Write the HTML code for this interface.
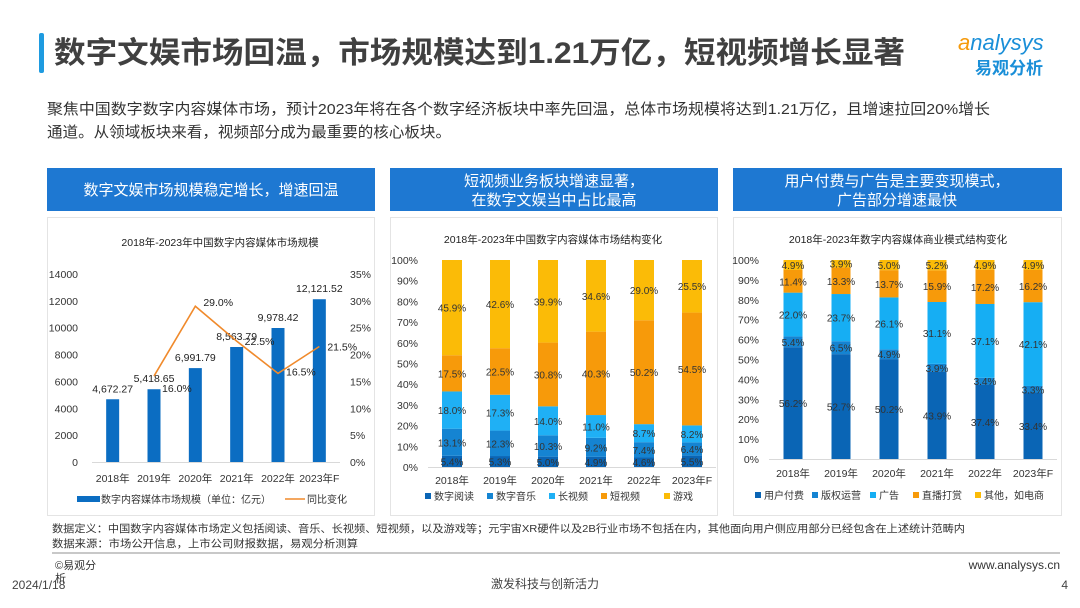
<!DOCTYPE html>
<html><head><meta charset="utf-8">
<style>
body{margin:0;width:1080px;height:608px;background:#fff;overflow:hidden;font-family:"Liberation Sans","Noto Sans CJK SC",sans-serif;}
svg{position:absolute;left:0;top:0}
text{font-family:"Liberation Sans","Noto Sans CJK SC",sans-serif;}
</style></head>
<body>
<svg id="s" width="1080" height="608" viewBox="0 0 1080 608">
  <rect x="39" y="33" width="5" height="40" rx="2" fill="#1e9be0"/>
  <text x="54" y="63" font-size="30" font-weight="bold" fill="#404040" textLength="851" lengthAdjust="spacingAndGlyphs">数字文娱市场回温，市场规模达到1.21万亿，短视频增长显著</text>
  <g>
    <text x="958" y="50" font-size="22" fill="#1a8fd8" font-style="italic"><tspan fill="#f59a0c">a</tspan>nalysys</text>
    <text x="975" y="74" font-size="17" font-weight="bold" fill="#1a8fd8">易观分析</text>
  </g>
  <text x="47" y="114" font-size="15" fill="#333" textLength="943" lengthAdjust="spacingAndGlyphs">聚焦中国数字数字内容媒体市场，预计2023年将在各个数字经济板块中率先回温，总体市场规模将达到1.21万亿，且增速拉回20%增长</text>
  <text x="47" y="137" font-size="15" fill="#333" textLength="404" lengthAdjust="spacingAndGlyphs">通道。从领域板块来看，视频部分成为最重要的核心板块。</text>

  <rect x="47" y="168" width="328" height="43" fill="#1e78d2"/>
  <text x="211" y="195" font-size="15" fill="#fff" text-anchor="middle">数字文娱市场规模稳定增长，增速回温</text>
  <rect x="390" y="168" width="328" height="43" fill="#1e78d2"/>
  <text x="554" y="186" font-size="15" fill="#fff" text-anchor="middle">短视频业务板块增速显著，</text>
  <text x="554" y="205" font-size="15" fill="#fff" text-anchor="middle">在数字文娱当中占比最高</text>
  <rect x="733" y="168" width="329" height="43" fill="#1e78d2"/>
  <text x="897" y="186" font-size="15" fill="#fff" text-anchor="middle">用户付费与广告是主要变现模式，</text>
  <text x="897" y="205" font-size="15" fill="#fff" text-anchor="middle">广告部分增速最快</text>

  <rect x="47.5" y="217.5" width="327" height="298" fill="#fff" stroke="#e4e4e4"/>
  <rect x="390.5" y="217.5" width="327" height="298" fill="#fff" stroke="#e4e4e4"/>
  <rect x="733.5" y="217.5" width="328" height="298" fill="#fff" stroke="#e4e4e4"/>

  <g id="c1"></g>
  <g id="c2"></g>
  <g id="c3"></g>

  <text x="52" y="532" font-size="10.5" fill="#333" textLength="913" lengthAdjust="spacingAndGlyphs">数据定义：中国数字内容媒体市场定义包括阅读、音乐、长视频、短视频，以及游戏等；元宇宙XR硬件以及2B行业市场不包括在内，其他面向用户侧应用部分已经包含在上述统计范畴内</text>
  <text x="52" y="547" font-size="10.5" fill="#333" textLength="306" lengthAdjust="spacingAndGlyphs">数据来源：市场公开信息，上市公司财报数据，易观分析测算</text>
  <rect x="52" y="552" width="1008" height="2" fill="#c8c8c8"/>
  <text x="55" y="569" font-size="11" fill="#333">©易观分</text>
  <text x="55" y="582" font-size="11" fill="#333">析</text>
  <text x="12" y="589" font-size="12" fill="#444">2024/1/18</text>
  <text x="545" y="588" font-size="12" fill="#444" text-anchor="middle">激发科技与创新活力</text>
  <text x="1060" y="569" font-size="12" fill="#333" text-anchor="end">www.analysys.cn</text>
  <text x="1068" y="589" font-size="12" fill="#444" text-anchor="end">4</text>
</svg>
<script>
const years = ["2018年","2019年","2020年","2021年","2022年","2023年F"];
const marketSize = [4672.27,5418.65,6991.79,8563.79,9978.42,12121.52];
const sizeLabels = ["4,672.27","5,418.65","6,991.79","8,563.79","9,978.42","12,121.52"];
const growth = [null,16.0,29.0,22.5,16.5,21.5];
const leftTicks = [0,2000,4000,6000,8000,10000,12000,14000];
const rightTicks = [0,5,10,15,20,25,30,35];

const segNames2 = ["数字阅读","数字音乐","长视频","短视频","游戏"];
const reading = [5.4,5.3,5.0,4.9,4.6,5.5];
const music = [13.1,12.3,10.3,9.2,7.4,6.4];
const longVideo = [18.0,17.3,14.0,11.0,8.7,8.2];
const shortVideo = [17.5,22.5,30.8,40.3,50.2,54.5];
const games = [45.9,42.6,39.9,34.6,29.0,25.5];

const segNames3 = ["用户付费","版权运营","广告","直播打赏","其他，如电商"];
const userPay = [56.2,52.7,50.2,43.9,37.4,33.4];
const copyright = [5.4,6.5,4.9,3.9,3.4,3.3];
const ads = [22.0,23.7,26.1,31.1,37.1,42.1];
const liveTips = [11.4,13.3,13.7,15.9,17.2,16.2];
const others = [4.9,3.9,5.0,5.2,4.9,4.9];
const pctTicks = [0,10,20,30,40,50,60,70,80,90,100];

const NS="http://www.w3.org/2000/svg";
function mk(p,tag,attrs,txt){const e=document.createElementNS(NS,tag);for(const k in attrs)e.setAttribute(k,attrs[k]);if(txt!==undefined)e.textContent=txt;p.appendChild(e);return e;}

// Chart 1
(function(){
  const g=document.getElementById('c1');
  const x0=92,x1=340,yTop=274,yBot=462;
  const n=years.length, step=(x1-x0)/n;
  const xc=i=>x0+step*(i+0.5);
  const yL=v=>yBot-(v/14000)*(yBot-yTop);
  const yR=v=>yBot-(v/35)*(yBot-yTop);
  let t=mk(g,'text',{x:220,y:246,'font-size':10.5,'text-anchor':'middle',fill:'#222'},'2018年-2023年中国数字内容媒体市场规模');
  
  leftTicks.forEach(v=>{const e=mk(g,'text',{x:78,y:yL(v)+4,'font-size':10.5,'text-anchor':'end',fill:'#333'},String(v));
    });
  rightTicks.forEach(v=>{const e=mk(g,'text',{x:350,y:yR(v)+4,'font-size':10.5,fill:'#333'},v+'%');
    });
  const ax=mk(g,'line',{x1:x0,x2:x1,y1:yBot+0.5,y2:yBot+0.5,stroke:'#d9d9d9'});
  
  marketSize.forEach((v,i)=>{
    const b=mk(g,'rect',{x:xc(i)-6.5,y:yL(v),width:13,height:yBot-yL(v),fill:'#0b6dc2'});
    
    const l=mk(g,'text',{x:xc(i),y:yL(v)-7,'font-size':10.5,'text-anchor':'middle',fill:'#222'},sizeLabels[i]);
    
    const xl=mk(g,'text',{x:xc(i),y:482,'font-size':10.5,'text-anchor':'middle',fill:'#333'},years[i]);
    
  });
  let d='';growth.forEach((v,i)=>{if(v==null)return;d+=(d?'L':'M')+xc(i)+','+yR(v);});
  const ln=mk(g,'path',{d:d,fill:'none',stroke:'#f08a2c','stroke-width':1.6});
  
  const offY=[0,16,0,4,2,4];
  growth.forEach((v,i)=>{if(v==null)return;
    const l=mk(g,'text',{x:xc(i)+8,y:yR(v)+offY[i],'font-size':10.5,fill:'#222'},v.toFixed(1)+'%');
    });
  const lb=mk(g,'rect',{x:77,y:496,width:23,height:6,fill:'#0b6dc2'});
  
  const lt=mk(g,'text',{x:101,y:503,'font-size':10,fill:'#333'},'数字内容媒体市场规模（单位：亿元）');
  
  const ll=mk(g,'line',{x1:285,x2:305,y1:499,y2:499,stroke:'#f08a2c','stroke-width':1.6});
  
  const lt2=mk(g,'text',{x:307,y:503,'font-size':10,fill:'#333'},'同比变化');
  
})();

function stacked(gid,opt){
  const g=document.getElementById(gid);
  const {x0,x1,yTop,yBot,series,colors,names,title,titleX,titleY,xlabY,legY,legX,legStep,axisX,barW}=opt;
  const n=years.length,step=(x1-x0)/n;
  const xc=i=>x0+step*(i+0.5);
  const y=v=>yBot-(v/100)*(yBot-yTop);
  const t=mk(g,'text',{x:titleX,y:titleY,'font-size':10.5,'text-anchor':'middle',fill:'#222'},title);
  
  pctTicks.forEach(v=>{const e=mk(g,'text',{x:axisX,y:y(v)+4,'font-size':10.5,'text-anchor':'end',fill:'#333'},v+'%');
    });
  const ax=mk(g,'line',{x1:x0,x2:x1,y1:yBot+0.5,y2:yBot+0.5,stroke:'#d9d9d9'});
  
  years.forEach((yr,i)=>{
    let acc=0;
    series.forEach((s,k)=>{
      const v=s[i];const top=k===series.length-1?100:acc+v;
      const r=mk(g,'rect',{x:xc(i)-barW/2,y:y(top),width:barW,height:y(acc)-y(top),fill:colors[k]});
      
      const l=mk(g,'text',{x:xc(i),y:(y(acc)+y(acc+v))/2+4,'font-size':10,'text-anchor':'middle',fill:'#333'},v.toFixed(1)+'%');
      
      acc+=v;
    });
    const xl=mk(g,'text',{x:xc(i),y:xlabY,'font-size':10.5,'text-anchor':'middle',fill:'#333'},yr);
    
  });
  let lx=legX;
  names.forEach((nm,k)=>{
    const sw=mk(g,'rect',{x:lx,y:legY-7,width:6,height:6,fill:colors[k]});
    
    const tx=mk(g,'text',{x:lx+9,y:legY,'font-size':10,fill:'#333'},nm);
    
    lx+=legStep[k];
  });
}
stacked('c2',{x0:428,x1:716,yTop:260,yBot:467,series:[reading,music,longVideo,shortVideo,games],
  colors:['#0a65b5','#1584d2','#1fb0f5','#f79a0a','#fbbb07'],names:segNames2,
  title:'2018年-2023年中国数字内容媒体市场结构变化',titleX:553,titleY:243,xlabY:484,legY:500,legX:425,
  legStep:[62,62,52,63,50],axisX:418,barW:20});
stacked('c3',{x0:769,x1:1057,yTop:260,yBot:459,series:[userPay,copyright,ads,liveTips,others],
  colors:['#0a65b5','#1584d2','#16aef3','#f79a0a','#fbbb07'],names:segNames3,
  title:'2018年-2023年数字内容媒体商业模式结构变化',titleX:898,titleY:243,xlabY:477,legY:499,legX:755,
  legStep:[57,58,43,62,60],axisX:759,barW:19});
</script>
</body></html>
